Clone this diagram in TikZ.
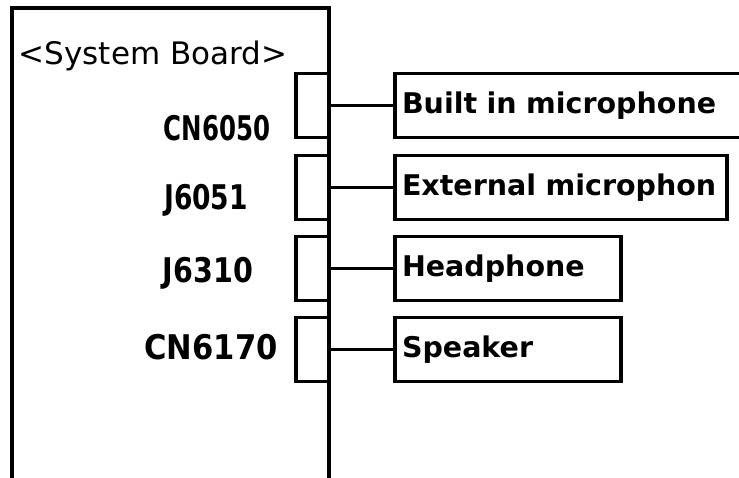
\documentclass[tikz,border=0pt]{standalone}
\usepackage{fontspec}
\setmainfont{DejaVu Sans}
\usetikzlibrary{positioning}

\newcommand{\narrowlbl}[2]{\scalebox{#1}[1]{#2}}

\begin{document}
\begin{tikzpicture}[x=1pt,y=-1pt,line width=3.2pt,
  board/.style={draw,rectangle,inner sep=0pt,outer sep=0pt,minimum width=317pt,minimum height=500pt,anchor=north west},
  plug/.style={draw,rectangle,inner sep=0pt,outer sep=0pt,minimum width=33pt,minimum height=64pt},
  device/.style={draw,rectangle,inner xsep=7pt,inner ysep=0pt,outer sep=0pt,minimum height=64pt,align=left,font=\fontsize{28.5}{34}\selectfont\bfseries},
  cnlabel/.style={inner sep=0pt,font=\fontsize{34}{40}\selectfont\bfseries},
  title/.style={inner sep=0pt,font=\fontsize{31}{36}\selectfont}
]
\useasboundingbox (0,0) rectangle (739,478);
\clip (0,0) rectangle (739,478);

\node[board] (sysboard) at (12,8) {};
\node[title] (boardname) at (153,56) {<System Board>};

% connectors on the board edge
\node[plug] (cn6050) at (312.5,105.5) {};
\node[plug,below=18pt of cn6050] (j6051) {};
\node[plug,below=17pt of j6051] (j6310) {};
\node[plug,below=17pt of j6310] (cn6170) {};

\node[cnlabel] (l6050) at (217,128) {\narrowlbl{0.72}{CN6050}};
\node[cnlabel] (l6051) at (206,200) {\narrowlbl{0.78}{J6051}};
\node[cnlabel] (l6310) at (208,273) {\narrowlbl{0.84}{J6310}};
\node[cnlabel] (l6170) at (211,347) {\narrowlbl{0.9}{CN6170}};

% devices
\node[device,text width=346pt,right=66pt of cn6050] (mic) {Built in microphone};
\node[device,text width=318pt,right=66pt of j6051] (extmic) {External microphon};
\node[device,text width=212pt,right=66pt of j6310] (phone) {Headphone};
\node[device,text width=212pt,right=66pt of cn6170] (spk) {Speaker};

\draw (cn6050) -- (mic);
\draw (j6051) -- (extmic);
\draw (j6310) -- (phone);
\draw (cn6170) -- (spk);
\end{tikzpicture}
\end{document}
